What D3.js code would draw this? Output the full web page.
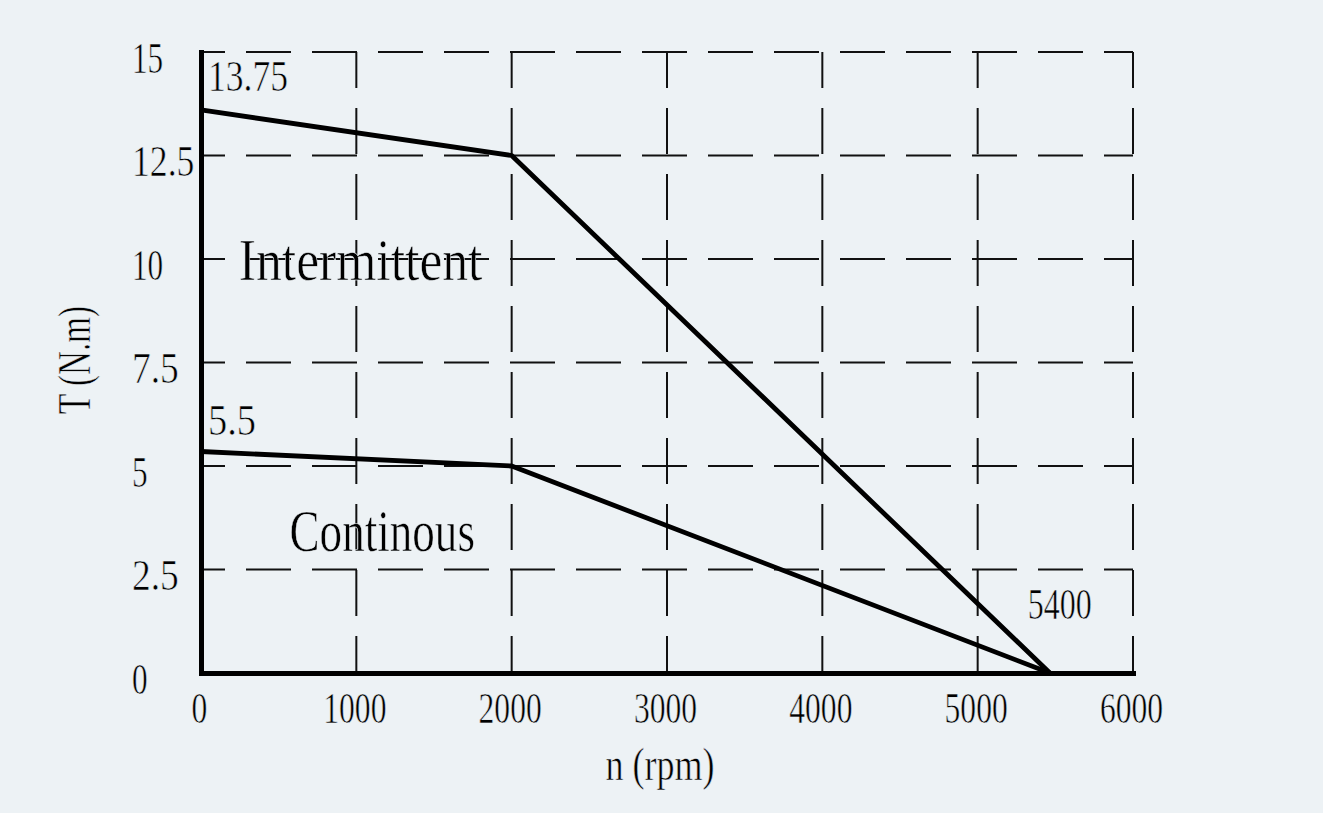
<!DOCTYPE html>
<html>
<head>
<meta charset="utf-8">
<script src="https://cdn.jsdelivr.net/npm/d3@7"></script>
<style>
  body { margin: 0; background: #edf2f5; }
  svg { display: block; }
  text { font-family: "Liberation Serif", "DejaVu Serif", serif; fill: #000; stroke: #edf2f5; stroke-width: 0.6px; }
</style>
</head>
<body>
<div class="chart"></div>
<script>
// torque / speed curve data
var speedTicks = [0, 1000, 2000, 3000, 4000, 5000, 6000];
var torqueTicks = [0, 2.5, 5, 7.5, 10, 12.5, 15];
var torqueTickLabels = ["0", "2.5", "5", "7.5", "10", "12.5", "15"];

var intermittentSpeed = [0, 2000, 5465];
var intermittentTorque = [13.6, 12.5, 0];
var continuousSpeed = [0, 2000, 5465];
var continuousTorque = [5.35, 5.0, 0];

var width = 1323, height = 813;

var svg = d3.select(".chart").append("svg")
    .attr("width", width)
    .attr("height", height);

var x = d3.scaleLinear().domain([0, 6000]).range([201, 1133]);
var y = d3.scaleLinear().domain([0, 15]).range([673, 52]);

// make text look like the narrow fixed-pitch font of the original
var fit = function(sel, cw) {
  sel.attr("textLength", function() { return this.textContent.length * cw; })
     .attr("lengthAdjust", "spacingAndGlyphs");
};

// dashed grid
svg.append("g").selectAll("line")
  .data(speedTicks.slice(1))
  .enter().append("line")
    .attr("x1", function(d) { return x(d); })
    .attr("x2", function(d) { return x(d); })
    .attr("y1", y(15))
    .attr("y2", y(0))
    .attr("stroke", "#111")
    .attr("stroke-width", 2)
    .attr("stroke-dasharray", "46,20")
    .attr("stroke-dashoffset", 10);

svg.append("g").selectAll("line")
  .data(torqueTicks.slice(1))
  .enter().append("line")
    .attr("x1", x(0))
    .attr("x2", x(6000))
    .attr("y1", function(d) { return y(d); })
    .attr("y2", function(d) { return y(d); })
    .attr("stroke", "#111")
    .attr("stroke-width", 2)
    .attr("stroke-dasharray", "45,21")
    .attr("stroke-dashoffset", 21);

// axes
var xAxis = svg.append("g")
    .attr("transform", "translate(0," + y(0) + ")")
    .call(d3.axisBottom(x).tickValues(speedTicks).tickSize(0).tickSizeOuter(0).tickFormat(d3.format("d")));
var yAxis = svg.append("g")
    .attr("transform", "translate(" + x(0) + ",0)")
    .call(d3.axisLeft(y).tickValues(torqueTicks).tickSize(0).tickSizeOuter(0)
      .tickFormat(function(d, i) { return torqueTickLabels[i]; }));

[xAxis, yAxis].forEach(function(a) {
  a.select(".domain").attr("stroke", "#000").attr("stroke-width", 5).attr("stroke-linecap", "square");
  a.selectAll("text").attr("font-size", 44).attr("font-family", null).attr("fill", null);
});

xAxis.selectAll("text")
    .attr("dy", null)
    .attr("y", 50)
    .attr("x", -2)
    .call(fit, 15.8);

yAxis.selectAll("text")
    .attr("dy", null)
    .attr("text-anchor", "start")
    .attr("x", 132 - x(0))
    .attr("y", 20)
    .call(fit, 15.6);

// curves
var line = d3.line()
    .x(function(d) { return x(d[0]); })
    .y(function(d) { return y(d[1]); });

[[intermittentSpeed, intermittentTorque], [continuousSpeed, continuousTorque]].forEach(function(s) {
  svg.append("path")
    .datum(d3.zip(s[0], s[1]))
    .attr("d", line)
    .attr("fill", "none")
    .attr("stroke", "#000")
    .attr("stroke-width", 4.8)
    .attr("stroke-linejoin", "round");
});

// annotations
var note = function(txt, px, py, size, cw) {
  svg.append("text")
    .attr("x", px).attr("y", py)
    .attr("font-size", size)
    .text(txt)
    .call(fit, cw);
};
note("13.75", x(0) + 7, y(15) + 39, 44, 16);
note("5.5", x(0) + 7, y(5) - 31, 44, 16);
note("5400", x(5400) - 12, y(2.5) + 49, 44, 16);
note("Intermittent", x(250) - 1, y(10) + 21, 60, 20.3);
note("Continous", x(570), y(2.5) - 19, 60, 20.6);

// axis titles
svg.append("text")
    .attr("x", 660).attr("y", 780)
    .attr("text-anchor", "middle")
    .attr("font-size", 46)
    .text("n (rpm)")
    .call(fit, 15.6);

svg.append("text")
    .attr("transform", "translate(90," + 360 + ") rotate(-90)")
    .attr("text-anchor", "middle")
    .attr("font-size", 46)
    .text("T (N.m)")
    .call(fit, 15.4);
</script>
</body>
</html>
